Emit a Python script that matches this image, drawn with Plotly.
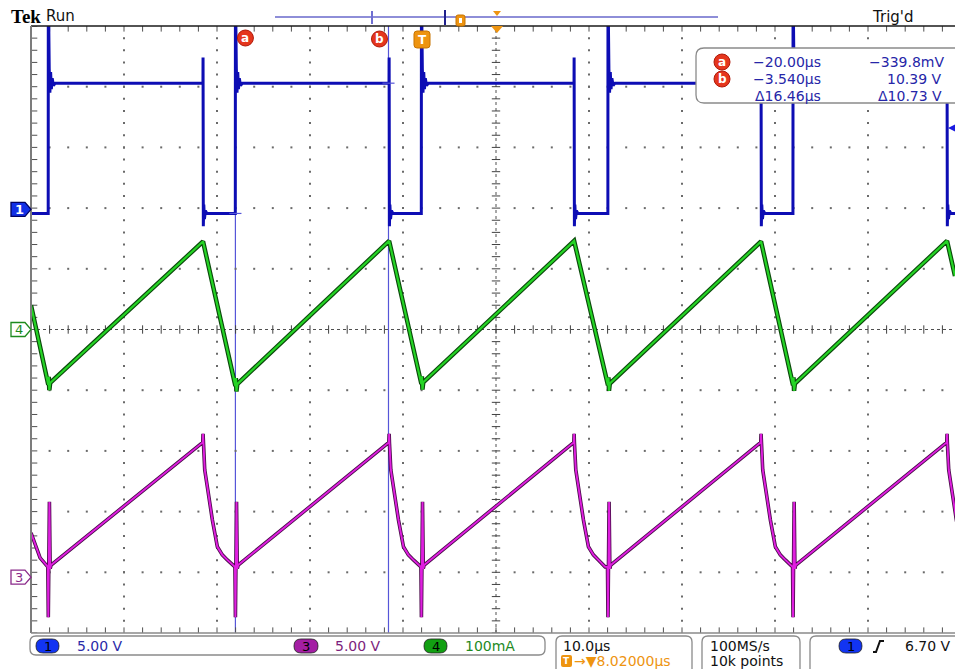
import numpy as np
import plotly.graph_objects as go

# ---------------- scope settings ----------------
time_per_div_us = 10.0
trigger_to_center_us = 8.02
ch1_volts_per_div = 5.0
ch3_volts_per_div = 5.0
ch4_ma_per_div = 100.0
ch1_position_div = 1.98
ch3_position_div = -4.08
ch4_position_div = 0.0
trigger_level_v = 6.70
sample_rate_label = "100MS/s"
record_length_label = "10k points"

# ---------------- edge timing (µs, relative to trigger) ----------------
rise_us = [-40.12, -20.00, 0.00, 20.06, 39.96]
fall_us = [-23.48, -3.47, 16.42, 36.52, 56.52]

# ---------------- CH1: switch voltage (V) ----------------
ch1_low_v = -0.34
ch1_high_v = 10.39
ch1_rise_dt_us = [0.00, 0.04, 0.10, 0.17, 0.25, 0.33, 0.42, 0.55, 0.75]
ch1_rise_v = [16.5, 15.8, 11.6, 9.6, 11.3, 9.9, 10.8, 10.2, 10.39]
ch1_fall_dt_us = [0.00, 0.03, 0.08, 0.15, 0.25, 0.40]
ch1_fall_v = [12.5, -1.4, 0.4, -0.8, -0.1, -0.34]

# ---------------- CH4: inductor current (mA) ----------------
ch4_valley_ma = [-91, -93, -90, -92, -92]
ch4_peak_ma = [145, 146, 146, 145, 146]
ch4_screen_edge_ma = [40, 88]
ch4_glitch_dt_us = [0.05, 0.11, 0.20]
ch4_glitch_ma = [13, -9, 3]

# ---------------- CH3: voltage (V) ----------------
ch3_peak_v = [11.1, 11.1, 11.1, 11.1, 11.1]
ch3_peak_spike_v = 11.8
ch3_decay_dt_us = [0.18, 0.51, 0.65, 1.00, 1.54, 2.07, 2.61, 3.33]
ch3_decay_v = [8.85, 7.2, 6.37, 4.72, 2.5, 1.84, 1.42, 0.85]
ch3_spike_dt_us = [0.00, 0.12, 0.20, 0.30]
ch3_spike_v = [-3.3, 6.2, 0.7, 1.0]
ch3_left_t_us = [-41.98, -41.0]
ch3_left_v = [3.65, 1.59]
ch3_valley_v = 0.85

# ---------------- cursors ----------------
cursor_a_us, cursor_a_v = -20.00, -0.3398
cursor_b_us, cursor_b_v = -3.540, 10.39

# ---------------- page geometry ----------------
W, H = 955, 669
ML, MR, MT, MB = 31, 0, 26, 36
PW, PH = W - ML - MR, H - MT - MB
PX_PER_DIV_X = 93.0
VISIBLE_DIVS_X = PW / PX_PER_DIV_X

t_left = trigger_to_center_us - 5 * time_per_div_us
t_right = t_left + VISIBLE_DIVS_X * time_per_div_us

UI_FONT = "DejaVu Sans"
BLUE_TXT = "#2626a8"
ORANGE = "#ee9410"
RED_CUR = "#e5361d"


def fx(x):
    return (x - ML) / PW


def fy(y):
    return (H - MB - y) / PH


def poly_path(pts, close=True):
    s = "M " + " L ".join(f"{fx(x):.5f},{fy(y):.5f}" for x, y in pts)
    return s + (" Z" if close else "")


def round_rect_path(x0, y0, x1, y1, r):
    return " ".join([
        f"M {fx(x0 + r):.5f},{fy(y0):.5f}",
        f"L {fx(x1 - r):.5f},{fy(y0):.5f}",
        f"Q {fx(x1):.5f},{fy(y0):.5f} {fx(x1):.5f},{fy(y0 + r):.5f}",
        f"L {fx(x1):.5f},{fy(y1 - r):.5f}",
        f"Q {fx(x1):.5f},{fy(y1):.5f} {fx(x1 - r):.5f},{fy(y1):.5f}",
        f"L {fx(x0 + r):.5f},{fy(y1):.5f}",
        f"Q {fx(x0):.5f},{fy(y1):.5f} {fx(x0):.5f},{fy(y1 - r):.5f}",
        f"L {fx(x0):.5f},{fy(y0 + r):.5f}",
        f"Q {fx(x0):.5f},{fy(y0):.5f} {fx(x0 + r):.5f},{fy(y0):.5f}",
        "Z",
    ])


# ---------------- waveform assembly ----------------
def build_ch1():
    t, v = [t_left], [ch1_low_v]
    for r, f in zip(rise_us, fall_us):
        t.append(r - 0.01); v.append(ch1_low_v)
        t += [r + d for d in ch1_rise_dt_us]; v += ch1_rise_v
        t.append(f - 0.01); v.append(ch1_high_v)
        t += [f + d for d in ch1_fall_dt_us]; v += ch1_fall_v
    t.append(t_right); v.append(ch1_low_v)
    return t, v


def build_ch4():
    t, v = [t_left], [ch4_screen_edge_ma[0]]
    for r, f, mn, pk in zip(rise_us, fall_us, ch4_valley_ma, ch4_peak_ma):
        t.append(r); v.append(mn)
        t += [r + d for d in ch4_glitch_dt_us]; v += [mn + g for g in ch4_glitch_ma]
        t.append(f); v.append(pk)
    t.append(t_right); v.append(ch4_screen_edge_ma[1])
    return t, v


def build_ch3():
    t, v = list(ch3_left_t_us), list(ch3_left_v)
    for r, f, pk in zip(rise_us, fall_us, ch3_peak_v):
        t.append(r - 0.05); v.append(ch3_valley_v)
        t += [r + d for d in ch3_spike_dt_us]; v += ch3_spike_v
        t += [f - 0.03, f, f + 0.03]; v += [pk, ch3_peak_spike_v, pk]
        t += [f + d for d in ch3_decay_dt_us]; v += ch3_decay_v
    return t, v


fig = go.Figure()

# ---------------- graticule (division units on x / y) ----------------
gx_end = -5 + VISIBLE_DIVS_X
minor_x = np.round(np.arange(-5, gx_end, 0.2), 3)
minor_y = np.round(np.arange(-5, 5.001, 0.2), 3)

dots_x, dots_y = [], []
for gx in [-4, -3, -2, -1, 1, 2, 3, 4]:
    for yy in minor_y:
        if abs(yy) < 4.99 and abs(yy) > 1e-6:
            dots_x.append(gx); dots_y.append(yy)
for gy in [-4, -3, -2, -1, 1, 2, 3, 4]:
    for xx in minor_x:
        if xx > -4.99 and abs(xx) > 1e-6:
            dots_x.append(xx); dots_y.append(gy)
fig.add_trace(go.Scatter(x=dots_x, y=dots_y, mode="markers", xaxis="x", yaxis="y",
                         marker=dict(symbol="square", size=2, color="#6a6a6a"),
                         hoverinfo="skip", showlegend=False))

# center cross: fine dotted lines with minor ticks
fig.add_trace(go.Scatter(x=[-5, gx_end], y=[0, 0], mode="lines", xaxis="x", yaxis="y",
                         line=dict(color="#505050", width=1, dash="dot"),
                         hoverinfo="skip", showlegend=False))
fig.add_trace(go.Scatter(x=[0, 0], y=[-5, 5], mode="lines", xaxis="x", yaxis="y",
                         line=dict(color="#505050", width=1, dash="dot"),
                         hoverinfo="skip", showlegend=False))
fig.add_trace(go.Scatter(x=minor_x, y=[0] * len(minor_x), mode="markers", xaxis="x", yaxis="y",
                         marker=dict(symbol="line-ns", size=6, line=dict(width=1, color="#404040")),
                         hoverinfo="skip", showlegend=False))
fig.add_trace(go.Scatter(x=[0] * len(minor_y), y=minor_y, mode="markers", xaxis="x", yaxis="y",
                         marker=dict(symbol="line-ew", size=6, line=dict(width=1, color="#404040")),
                         hoverinfo="skip", showlegend=False))
# border ticks
fig.add_trace(go.Scatter(x=[-5] * len(minor_y), y=minor_y, mode="markers", xaxis="x", yaxis="y",
                         marker=dict(symbol="line-ew", size=9, line=dict(width=1, color="#505050")),
                         hoverinfo="skip", showlegend=False))
fig.add_trace(go.Scatter(x=list(minor_x) * 2, y=[5] * len(minor_x) + [-5] * len(minor_x),
                         mode="markers", xaxis="x", yaxis="y",
                         marker=dict(symbol="line-ns", size=8, line=dict(width=1, color="#505050")),
                         hoverinfo="skip", showlegend=False))

# ---------------- waveforms ----------------
t1, v1 = build_ch1()
t3, v3 = build_ch3()
t4, v4 = build_ch4()

fig.add_trace(go.Scatter(x=t1, y=v1, mode="lines", xaxis="x2", yaxis="y2",
                         line=dict(color="#0d0db4", width=3), hoverinfo="skip", showlegend=False))
fig.add_trace(go.Scatter(x=t3, y=v3, mode="lines", xaxis="x2", yaxis="y3",
                         line=dict(color="#4a0c4a", width=3.6), hoverinfo="skip", showlegend=False))
fig.add_trace(go.Scatter(x=t3, y=v3, mode="lines", xaxis="x2", yaxis="y3",
                         line=dict(color="#e01fe0", width=1.9), hoverinfo="skip", showlegend=False))
fig.add_trace(go.Scatter(x=t4, y=v4, mode="lines", xaxis="x2", yaxis="y4",
                         line=dict(color="#0b4a0b", width=4.5), hoverinfo="skip", showlegend=False))
fig.add_trace(go.Scatter(x=t4, y=v4, mode="lines", xaxis="x2", yaxis="y4",
                         line=dict(color="#25d425", width=2.2), hoverinfo="skip", showlegend=False))

shapes = []
annotations = []

# cursor lines and crosshairs
for tc in (cursor_a_us, cursor_b_us):
    shapes.append(dict(type="line", xref="x2", yref="paper", x0=tc, x1=tc, y0=0, y1=1,
                       line=dict(color="#5656d8", width=1.2), layer="below"))
for tc, vc in ((cursor_a_us, cursor_a_v), (cursor_b_us, cursor_b_v)):
    shapes.append(dict(type="line", xref="x2", yref="y2", x0=tc - 0.65, x1=tc + 0.65, y0=vc, y1=vc,
                       line=dict(color="#5656d8", width=1.2)))

# frame
shapes.append(dict(type="line", xref="paper", yref="paper", x0=0, x1=1, y0=1, y1=1,
                   line=dict(color="#1a1a1a", width=1.5)))
shapes.append(dict(type="line", xref="paper", yref="paper", x0=0, x1=0, y0=0, y1=1,
                   line=dict(color="#7c7c7c", width=2)))
shapes.append(dict(type="line", xref="paper", yref="paper", x0=0, x1=1, y0=0, y1=0,
                   line=dict(color="#8a8a8a", width=1.5)))


def text(x, y, s, color, size=14, anchor="left", family=UI_FONT, xref="paper", xshift=0):
    annotations.append(dict(x=fx(x) if xref == "paper" else x, y=fy(y), xref=xref, yref="paper",
                            text=s, showarrow=False, xanchor=anchor, yanchor="middle",
                            xshift=xshift, font=dict(family=family, size=size, color=color)))


# ---------------- top status line ----------------
text(9, 16, "<b>Tek</b>", "#000000", size=19, family="Liberation Serif")
text(44, 16, "Run", "#111111", size=15)
text(870, 17, "Trig'd", "#111111", size=15)

# record view bar
shapes.append(dict(type="line", xref="paper", yref="paper", x0=fx(275), x1=fx(718), y0=fy(17), y1=fy(17),
                   line=dict(color="#8e8ed8", width=2)))
shapes.append(dict(type="line", xref="paper", yref="paper", x0=fx(372), x1=fx(372), y0=fy(11), y1=fy(24),
                   line=dict(color="#6f6fd2", width=2)))
shapes.append(dict(type="line", xref="paper", yref="paper", x0=fx(445), x1=fx(445), y0=fy(10), y1=fy(25),
                   line=dict(color="#20208c", width=2)))
shapes.append(dict(type="path", xref="paper", yref="paper", path=round_rect_path(456, 15, 465, 26, 2),
                   fillcolor=ORANGE, line=dict(color="#c87400", width=1)))
shapes.append(dict(type="rect", xref="paper", yref="paper", x0=fx(459), x1=fx(462), y0=fy(23), y1=fy(18),
                   fillcolor="#ffffff", line=dict(width=0)))
shapes.append(dict(type="path", xref="paper", yref="paper",
                   path=poly_path([(493, 11), (501, 11), (497, 16)]),
                   fillcolor=ORANGE, line=dict(width=0)))
# horizontal position marker on the graticule edge
shapes.append(dict(type="path", xref="paper", yref="paper",
                   path=poly_path([(491, 26), (503, 26), (497, 33)]),
                   fillcolor=ORANGE, line=dict(width=0)))

# cursor / trigger tags
shapes.append(dict(type="circle", xref="x2", xsizemode="pixel", xanchor=cursor_a_us, x0=2, x1=18,
                   yref="paper", y0=fy(46), y1=fy(30), fillcolor=RED_CUR, line=dict(color="#b01a0a", width=1)))
text(cursor_a_us, 38, "<b>a</b>", "#ffffff", size=12, anchor="center", xref="x2", xshift=10)
shapes.append(dict(type="circle", xref="x2", xsizemode="pixel", xanchor=cursor_b_us, x0=-17, x1=-1,
                   yref="paper", y0=fy(47), y1=fy(31), fillcolor=RED_CUR, line=dict(color="#b01a0a", width=1)))
text(cursor_b_us, 39, "<b>b</b>", "#ffffff", size=12, anchor="center", xref="x2", xshift=-9)
shapes.append(dict(type="path", xref="paper", yref="paper", path=round_rect_path(414, 31, 430, 48, 3),
                   fillcolor=ORANGE, line=dict(color="#c87400", width=1)))
text(422, 40, "<b>T</b>", "#ffffff", size=12, anchor="center")

# ---------------- cursor readout ----------------
def fmt_time(v):
    sign = "−" if v < 0 else ""
    return f"{sign}{abs(v):.3f}µs" if abs(v) < 10 else f"{sign}{abs(v):.2f}µs"


def fmt_volt(v):
    sign = "−" if v < 0 else ""
    return f"{sign}{abs(v) * 1000:.1f}mV" if abs(v) < 1 else f"{sign}{abs(v):.2f} V"


shapes.append(dict(type="path", xref="paper", yref="paper", path=round_rect_path(696, 48, 966, 103, 8),
                   fillcolor="#ffffff", line=dict(color="#8a8a8a", width=1.3)))
for yy, lab in ((62, "a"), (79, "b")):
    shapes.append(dict(type="circle", xref="paper", yref="paper", x0=fx(714), x1=fx(730),
                       y0=fy(yy + 8), y1=fy(yy - 8), fillcolor=RED_CUR, line=dict(color="#b01a0a", width=1)))
    text(722, yy, f"<b>{lab}</b>", "#ffffff", size=12, anchor="center")
text(823, 62, fmt_time(cursor_a_us), BLUE_TXT, anchor="right")
text(946, 62, fmt_volt(cursor_a_v), BLUE_TXT, anchor="right")
text(823, 79, fmt_time(cursor_b_us), BLUE_TXT, anchor="right")
text(944, 79, fmt_volt(cursor_b_v), BLUE_TXT, anchor="right")
text(823, 96, "Δ" + f"{abs(cursor_b_us - cursor_a_us):.2f}µs", BLUE_TXT, anchor="right")
text(944, 96, "Δ" + f"{abs(cursor_b_v - cursor_a_v):.2f} V", BLUE_TXT, anchor="right")

# ---------------- channel ground markers ----------------
def chan_marker(pos_div, fill, edge, label, label_color):
    yc = (pos_div + 5) / 10
    pts = [(11, -7), (25, -7), (31, 0), (25, 7), (11, 7)]
    path = "M " + " L ".join(f"{fx(x):.5f},{yc - dy / PH:.5f}" for x, dy in pts) + " Z"
    shapes.append(dict(type="path", xref="paper", yref="paper", path=path, fillcolor=fill,
                       line=dict(color=edge, width=1.3)))
    annotations.append(dict(x=fx(19), y=yc, xref="paper", yref="paper", text=label, showarrow=False,
                            xanchor="center", yanchor="middle",
                            font=dict(family=UI_FONT, size=13, color=label_color)))


chan_marker(ch1_position_div, "#1230e6", "#000060", "<b>1</b>", "#ffffff")
chan_marker(ch4_position_div, "#ffffff", "#1d8a1d", "4", "#1d8a1d")
chan_marker(ch3_position_div, "#ffffff", "#8a2a8a", "3", "#8a2a8a")

# trigger level indicator on the right edge
yt = (ch1_position_div + trigger_level_v / ch1_volts_per_div + 5) / 10
shapes.append(dict(type="path", xref="paper", yref="paper",
                   path=f"M {fx(948):.5f},{yt:.5f} L {fx(956):.5f},{yt + 4 / PH:.5f} "
                        f"L {fx(956):.5f},{yt - 4 / PH:.5f} Z",
                   fillcolor="#1a1ae0", line=dict(width=0)))

# ---------------- bottom settings bar ----------------
BOX_EDGE = dict(color="#8a8a8a", width=1.3)
shapes.append(dict(type="path", xref="paper", yref="paper", path=round_rect_path(30, 636, 545, 655, 6),
                   fillcolor="#ffffff", line=BOX_EDGE))
shapes.append(dict(type="path", xref="paper", yref="paper", path=round_rect_path(556, 636, 692, 678, 6),
                   fillcolor="#ffffff", line=BOX_EDGE))
shapes.append(dict(type="path", xref="paper", yref="paper", path=round_rect_path(702, 636, 800, 678, 6),
                   fillcolor="#ffffff", line=BOX_EDGE))
shapes.append(dict(type="path", xref="paper", yref="paper", path=round_rect_path(810, 636, 970, 678, 6),
                   fillcolor="#ffffff", line=BOX_EDGE))


def pill(x0, x1, fill, label):
    shapes.append(dict(type="path", xref="paper", yref="paper", path=round_rect_path(x0, 639, x1, 653, 7),
                       fillcolor=fill, line=dict(color="#202020", width=0.8)))
    text((x0 + x1) / 2, 646, label, "#000000", size=13, anchor="center")


pill(36, 59, "#1234f2", "1")
text(75, 646, f"{ch1_volts_per_div:.2f} V", "#2a2aa8")
pill(294, 318, "#a41ea4", "3")
text(333, 646, f"{ch3_volts_per_div:.2f} V", "#7c1f7c")
pill(424, 447, "#12a012", "4")
text(463, 646, f"{ch4_ma_per_div:.0f}mA", "#1f8a1f")

text(561, 646, f"{time_per_div_us:.1f}µs", "#111111")
shapes.append(dict(type="path", xref="paper", yref="paper", path=round_rect_path(561, 655, 572, 667, 2),
                   fillcolor=ORANGE, line=dict(width=0)))
text(566.5, 661, "<b>T</b>", "#ffffff", size=9, anchor="center")
text(572, 661, f"→▼{trigger_to_center_us:.5f}µs", ORANGE)

text(708, 646, sample_rate_label, "#111111")
text(708, 661, record_length_label, "#111111")

pill(839, 862, "#1234f2", "1")
shapes.append(dict(type="path", xref="paper", yref="paper",
                   path=poly_path([(873, 652), (876, 652), (880, 641), (884, 641)], close=False),
                   line=dict(color="#111111", width=2)))
text(953, 646, f"{trigger_level_v:.2f} V", "#111111", anchor="right")

# ---------------- layout ----------------
fig.update_layout(
    width=W, height=H,
    margin=dict(l=ML, r=MR, t=MT, b=MB, pad=0),
    paper_bgcolor="#ffffff", plot_bgcolor="#ffffff",
    showlegend=False,
    xaxis=dict(range=[-5, gx_end], visible=False, fixedrange=True),
    yaxis=dict(range=[-5, 5], visible=False, fixedrange=True),
    xaxis2=dict(range=[t_left, t_right], overlaying="x", visible=False, fixedrange=True),
    yaxis2=dict(range=[(-5 - ch1_position_div) * ch1_volts_per_div, (5 - ch1_position_div) * ch1_volts_per_div],
                overlaying="y", visible=False, fixedrange=True),
    yaxis3=dict(range=[(-5 - ch3_position_div) * ch3_volts_per_div, (5 - ch3_position_div) * ch3_volts_per_div],
                overlaying="y", visible=False, fixedrange=True),
    yaxis4=dict(range=[(-5 - ch4_position_div) * ch4_ma_per_div, (5 - ch4_position_div) * ch4_ma_per_div],
                overlaying="y", visible=False, fixedrange=True),
    shapes=shapes,
    annotations=annotations,
)

fig.write_html("out.html", config={"displayModeBar": False})
